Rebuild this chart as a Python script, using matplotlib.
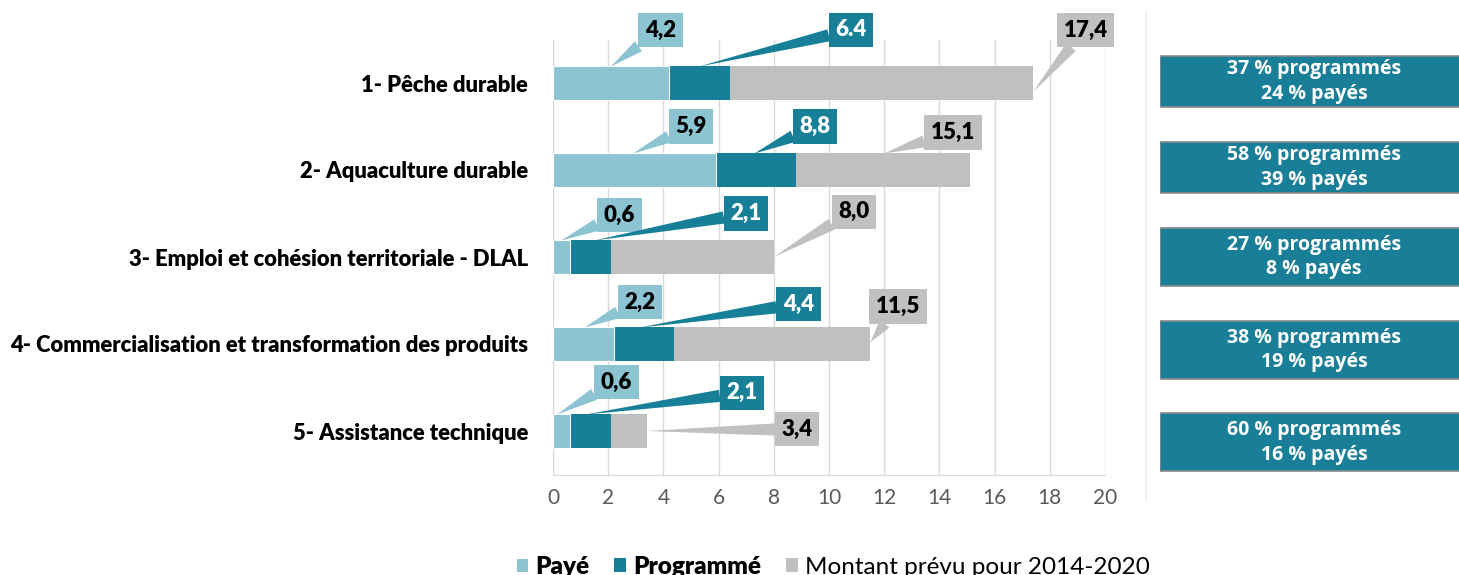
import numpy as np
import matplotlib.pyplot as plt

# données (millions d'euros)
categories = ['1- Pêche durable', '2- Aquaculture durable',
              '3- Emploi et cohésion territoriale - DLAL',
              '4- Commercialisation et transformation des produits',
              '5- Assistance technique']
paye = [4.2, 5.9, 0.6, 2.2, 0.6]
programme = [6.4, 8.8, 2.1, 4.4, 2.1]
prevu = [17.4, 15.1, 8.0, 11.5, 3.4]
paye_txt = ['4,2', '5,9', '0,6', '2,2', '0,6']
prog_txt = ['6.4', '8,8', '2,1', '4,4', '2,1']
prevu_txt = ['17,4', '15,1', '8,0', '11,5', '3,4']
pct_prog = [37, 58, 27, 38, 60]
pct_paye = [24, 39, 8, 19, 16]

# couleurs
c_paye = '#8CC4D2'
c_prog = '#177F98'
c_prevu = '#C0C0C0'
c_box = '#197E97'

# position des étiquettes (x boîte, y boîte, x pointe, y pointe) relatif à chaque barre
lab_paye = [(3.9, -0.61, 2.1, -0.19), (5.0, -0.5, 2.9, -0.19), (2.4, -0.48, 0.3, -0.19),
            (3.15, -0.48, 1.15, -0.19), (2.3, -0.56, 0.15, -0.19)]
lab_prog = [(10.8, -0.61, 5.3, -0.19), (9.5, -0.5, 7.3, -0.19), (7.0, -0.5, 1.5, -0.19),
            (8.9, -0.46, 3.15, -0.19), (6.85, -0.44, 1.2, -0.19)]
lab_prevu = [(19.3, -0.61, 17.4, 0.1), (14.5, -0.43, 12.0, -0.19), (10.9, -0.52, 8.0, 0.0),
             (12.5, -0.43, 11.5, -0.02), (8.85, -0.02, 3.4, 0.0)]
box_y = [-0.02, 0.97, 2.0, 3.07, 4.13]
box_h = [0.59, 0.59, 0.66, 0.67, 0.67]

lab_font = ['Lato', 'DejaVu Sans']

fig = plt.figure(figsize=(14.59, 5.75), dpi=100)
ax = fig.add_axes([553/1459, 1-474.5/575, 552/1459, 435/575])

y = np.arange(len(categories))
h = 0.4
ax.barh(y, prevu, height=h, color=c_prevu, zorder=2, label='Montant prévu pour 2014-2020')
ax.barh(y, programme, height=h, color=c_prog, zorder=3, label='Programmé')
ax.barh(y, paye, height=h, color=c_paye, edgecolor='white', linewidth=0.8, zorder=4, label='Payé')

ax.set_xlim(0, 20)
ax.set_ylim(4.5, -0.5)
ax.set_xticks(np.arange(0, 21, 2))
ax.set_yticks(y)
ax.set_yticklabels(categories, fontweight='heavy', fontsize=15.8, family=lab_font)
ax.tick_params(axis='y', length=0, pad=18)
ax.tick_params(axis='x', length=0, pad=10, labelsize=15, labelcolor='#595959')
for t in ax.get_xticklabels():
    t.set_family(lab_font)
ax.grid(axis='x', color='#D9D9D9', linewidth=1, zorder=0)
ax.set_axisbelow(True)
for s in ['top', 'right']:
    ax.spines[s].set_visible(False)
ax.spines['left'].set_color('#D9D9D9')
ax.spines['bottom'].set_color('#D9D9D9')


def callout(txt, i, pos, fc, tc):
    bx, by, tx, ty = pos
    ax.annotate(txt, xy=(tx, i + ty), xytext=(bx, i + by), ha='center', va='center',
                fontsize=16, fontweight='heavy', color=tc, family=lab_font, zorder=6,
                bbox=dict(boxstyle='square,pad=0.3', fc=fc, ec='none'),
                arrowprops=dict(arrowstyle='wedge,tail_width=0.55,shrink_factor=0.5',
                                fc=fc, ec='none', shrinkA=0, shrinkB=0), annotation_clip=False)


for i in range(len(categories)):
    callout(paye_txt[i], i, lab_paye[i], c_paye, 'black')
    callout(prog_txt[i], i, lab_prog[i], c_prog, 'white')
    callout(prevu_txt[i], i, lab_prevu[i], c_prevu, 'black')

# encadrés à droite
ax2 = fig.add_axes([1160/1459, 1-474.5/575, 310/1459, 435/575])
ax2.set_xlim(0, 1)
ax2.set_ylim(4.5, -0.5)
ax2.axis('off')
ax2.barh(box_y, 1, height=box_h, left=0, color=c_box, edgecolor='#8A8A8A', linewidth=1.2)
for i in range(len(categories)):
    ax2.text(0.497, box_y[i], f'{pct_prog[i]} % programmés\n{pct_paye[i]} % payés',
             ha='center', va='center', color='white', fontsize=14, fontweight='bold',
             family=['Open Sans', 'DejaVu Sans'], linespacing=1.3)

fig.add_artist(plt.Line2D([1146/1459, 1146/1459], [0.13, 0.98], color='#F2F2F2', lw=1.5))

# légende
handles, labels = ax.get_legend_handles_labels()
order = [2, 1, 0]
leg = fig.legend([handles[k] for k in order], [labels[k] for k in order], loc='center',
                 bbox_to_anchor=(833/1459, 0.014), ncol=3, frameon=False,
                 handlelength=0.5, handleheight=0.5, handletextpad=0.3, columnspacing=1.0,
                 prop={'family': lab_font, 'size': 17.5})
for k, t in enumerate(leg.get_texts()):
    if k < 2:
        t.set_fontweight('heavy')

fig.savefig('out.png', dpi=100)
